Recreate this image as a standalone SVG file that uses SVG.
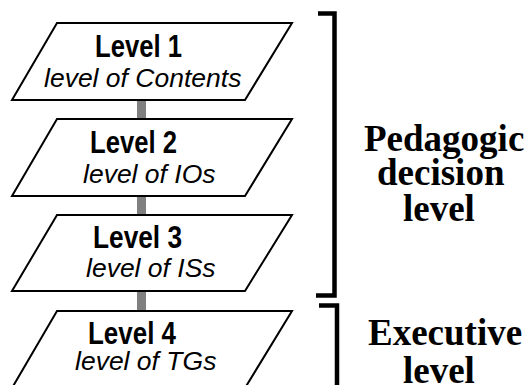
<svg xmlns="http://www.w3.org/2000/svg" width="531" height="385" viewBox="0 0 531 385">
<style>
.box{fill:#fff;stroke:#000;stroke-width:2;stroke-linejoin:miter}
.conn{fill:#808080}
.br{fill:none;stroke:#000;stroke-width:4.5;stroke-linejoin:miter}
.t{font-family:"Liberation Sans",Arial,sans-serif;font-weight:bold;font-size:31px;fill:#000}
.s{font-family:"Liberation Sans",Arial,sans-serif;font-style:italic;font-size:26.5px;fill:#000}
.r{font-family:"Liberation Serif","Times New Roman",serif;font-weight:bold;font-size:37px;fill:#000}
</style>
<rect width="531" height="385" fill="#fff"/>
<g id="connectors">
<rect class="conn" x="137" y="100" width="9" height="19"/>
<rect class="conn" x="137" y="195" width="9" height="20"/>
<rect class="conn" x="137" y="291" width="9" height="20"/>
</g>
<g id="level1">
<polygon class="box" points="57,23 292,23 245,100 12,100"/>
<text class="t" x="95" y="57" textLength="87" lengthAdjust="spacingAndGlyphs">Level 1</text>
<text class="s" x="44" y="87">level of Contents</text>
</g>
<g id="level2">
<polygon class="box" points="57,119 292,119 245,196 12,196"/>
<text class="t" x="90" y="153" textLength="87" lengthAdjust="spacingAndGlyphs">Level 2</text>
<text class="s" x="83" y="183">level of IOs</text>
</g>
<g id="level3">
<polygon class="box" points="57,215 292,215 245,291 12,291"/>
<text class="t" x="93" y="248" textLength="89" lengthAdjust="spacingAndGlyphs">Level 3</text>
<text class="s" x="86" y="277">level of ISs</text>
</g>
<g id="level4">
<polygon class="box" points="57,311 292,311 245,388 12,388"/>
<text class="t" x="88" y="344" textLength="88" lengthAdjust="spacingAndGlyphs">Level 4</text>
<text class="s" x="75" y="370">level of TGs</text>
</g>
<g id="pedagogic">
<path class="br" d="M318,13.5 H334.5 V295.5 H316"/>
<text class="r" x="364" y="151">Pedagogic</text>
<text class="r" x="377" y="185">decision</text>
<text class="r" x="403" y="221">level</text>
</g>
<g id="executive">
<path class="br" d="M319,305.5 H337 V390"/>
<text class="r" x="368" y="345">Executive</text>
<text class="r" x="403" y="383">level</text>
</g>
</svg>
